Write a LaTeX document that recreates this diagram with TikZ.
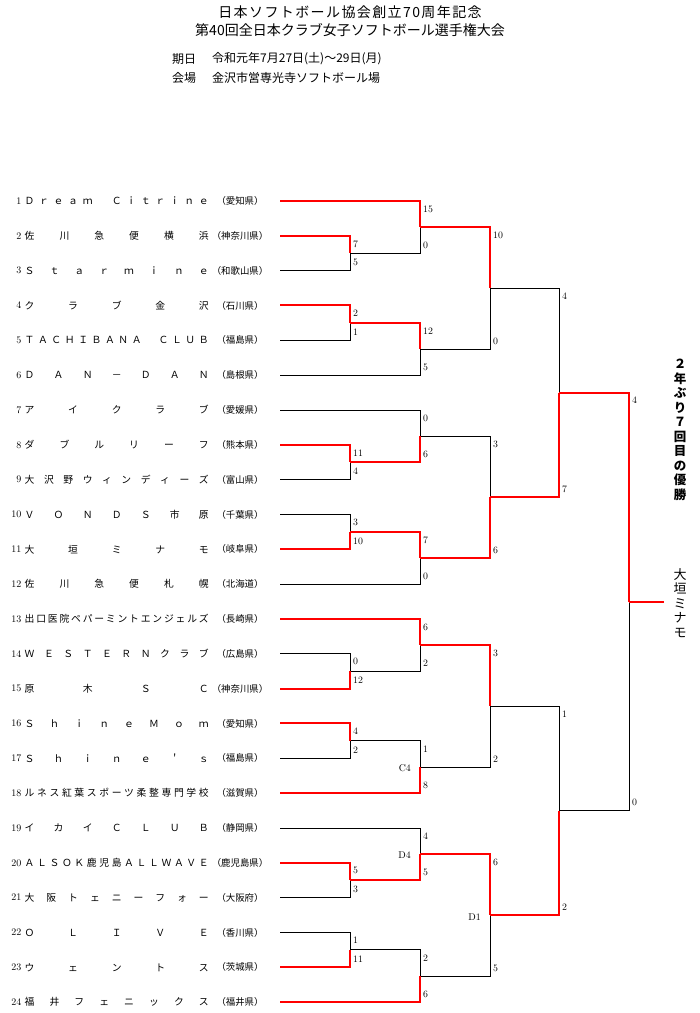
\documentclass[tikz,border=0pt]{standalone}
\usepackage{fontspec}
\newfontfamily\jp{Noto Sans CJK JP}
\usetikzlibrary{calc}

\makeatletter
% spread the letters of a team name over the name column
\newcommand\spreadname[1]{\hbox to 184pt{\let\sn@gap\relax\expandafter\sn@loop#1\sn@end}}
\def\sn@loop#1{\ifx#1\sn@end\else\sn@gap#1\let\sn@gap\hfil\expandafter\sn@loop\fi}
\makeatother

\begin{document}
\begin{tikzpicture}[x=1pt, y=-1pt,
  declare function={row(\idx)=201+(\idx-1)*34.83;},
  win/.style={draw=red, line width=2pt},
  lose/.style={draw=black, line width=0.9pt},
  title/.style={font=\jp\fontsize{14}{14}\selectfont, inner sep=0pt},
  info/.style={font=\jp\fontsize{12}{12}\selectfont, inner sep=0pt, anchor=west},
  num/.style={font=\fontsize{10}{10}\selectfont, inner sep=0pt, anchor=east},
  teamname/.style={font=\jp\fontsize{9.8}{10}\selectfont, inner sep=0pt, anchor=west},
  pref/.style={font=\jp\fontsize{9.4}{10}\selectfont, inner sep=0pt},
  score/.style={font=\fontsize{9.8}{10}\selectfont, inner sep=0pt},
  vert/.style={font=\jp\fontsize{13}{14.5}\selectfont, align=center, inner sep=0pt}
]
\path[fill=white, use as bounding box] (0,0) rectangle (700,1013);

% heading
\node[title] (head1) at (350,12) {\addfontfeatures{LetterSpace=10}日本ソフトボール協会創立70周年記念};
\node[title] (head2) at (350,30) {第40回全日本クラブ女子ソフトボール選手権大会};
\node[info] (datelab) at (172,59) {期日};
\node[info] (date) at (212,59) {令和元年7月27日(土)～29日(月)};
\node[info] (venuelab) at (172,78) {会場};
\node[info] (venue) at (212,78) {金沢市営専光寺ソフトボール場};

% teams
\foreach \i/\nm/\pf in {1/Ｄｒｅａｍ　Ｃｉｔｒｉｎｅ/愛知県, 2/佐川急便横浜/神奈川県,
    3/Ｓｔａｒｍｉｎｅ/和歌山県, 4/クラブ金沢/石川県, 5/ＴＡＣＨＩＢＡＮＡ　ＣＬＵＢ/福島県,
    6/ＤＡＮ－ＤＡＮ/島根県, 7/アイクラブ/愛媛県, 8/ダブルリーフ/熊本県,
    9/大沢野ウィンディーズ/富山県, 10/ＶＯＮＤＳ市原/千葉県, 11/大垣ミナモ/岐阜県,
    12/佐川急便札幌/北海道, 13/出口医院ペパーミントエンジェルズ/長崎県,
    14/ＷＥＳＴＥＲＮクラブ/広島県, 15/原木ＳＣ/神奈川県, 16/ＳｈｉｎｅＭｏｍ/愛知県,
    17/Ｓｈｉｎｅ＇ｓ/福島県, 18/ルネス紅葉スポーツ柔整専門学校/滋賀県,
    19/イカイＣＬＵＢ/静岡県, 20/ＡＬＳＯＫ鹿児島ＡＬＬＷＡＶＥ/鹿児島県,
    21/大阪トェニーフォー/大阪府, 22/ＯＬＩＶＥ/香川県, 23/ウェントス/茨城県,
    24/福井フェニックス/福井県} {
  \node[num] (n\i) at (21.5,{row(\i)}) {\i};
  \node[teamname] (t\i) at (24.5,{row(\i)}) {\spreadname{\nm}};
  \node[pref] (p\i) at (240,{row(\i)}) {（\pf）};
  \coordinate (s\i) at (280,{row(\i)});
}

% junctions
\foreach \blk/\o in {A/0,B/6,C/12,D/18} {
  \coordinate (\blk p) at (350,{row(\o+2.5)});
  \coordinate (\blk q) at (350,{row(\o+4.5)});
  \coordinate (\blk hi) at (420,{row(\o+1.75)});
  \coordinate (\blk lo) at (420,{row(\o+5.25)});
  \coordinate (\blk) at (490,{row(\o+3.5)});
}
\coordinate (AB) at (559,{row(6.5)});
\coordinate (CD) at (559,{row(18.5)});
\coordinate (F) at (629,{row(12.5)});
\coordinate (W) at (664,{row(12.5)});

% losing paths first, winning paths on top
\foreach \u/\v in {s3/Ap, Ap/Ahi, s5/Aq, s6/Alo, Alo/A,
    s7/Bhi, s9/Bp, s10/Bq, s12/Blo, Bhi/B,
    s14/Cp, Cp/Chi, s17/Cq, Cq/Clo, Clo/C,
    s19/Dhi, s21/Dp, s22/Dq, Dq/Dlo, Dlo/D,
    A/AB, C/CD, CD/F}
  \draw[lose] (\u) -| (\v);
\foreach \u/\v in {s1/Ahi, s2/Ap, s4/Aq, Aq/Alo, Ahi/A,
    s8/Bp, Bp/Bhi, s11/Bq, Bq/Blo, Blo/B,
    s13/Chi, s15/Cp, s16/Cq, s18/Clo, Chi/C,
    s20/Dp, Dp/Dhi, s23/Dq, s24/Dlo, Dhi/D,
    B/AB, D/CD, AB/F}
  \draw[win] (\u) -| (\v);
\draw[win] (F) -- (W);

% scores
\foreach \jn/\u/\l/\p/\q in {Ap/s2/s3/7/5, Aq/s4/s5/2/1, Ahi/s1/Ap/15/0,
    Alo/Aq/s6/12/5, A/Ahi/Alo/10/0,
    Bp/s8/s9/11/4, Bq/s10/s11/3/10, Bhi/s7/Bp/0/6, Blo/Bq/s12/7/0, B/Bhi/Blo/3/6,
    Cp/s14/s15/0/12, Cq/s16/s17/4/2, Chi/s13/Cp/6/2, Clo/Cq/s18/1/8, C/Chi/Clo/3/2,
    Dp/s20/s21/5/3, Dq/s22/s23/1/11, Dhi/s19/Dp/4/5, Dlo/Dq/s24/2/6, D/Dhi/Dlo/6/5,
    AB/A/B/4/7, CD/C/D/1/2, F/AB/CD/4/0} {
  \node[score, anchor=west, xshift=3pt, yshift=-8pt] (\jn top) at (\u -| \jn) {\p};
  \node[score, anchor=west, xshift=3pt, yshift=8pt] (\jn bot) at (\l -| \jn) {\q};
}

% match codes
\node[score, anchor=east, xshift=-9pt, yshift=-1pt] (codeC4) at (Clo) {C4};
\node[score, anchor=east, xshift=-9pt, yshift=-1pt] (codeD4) at (Dhi) {D4};
\node[score, anchor=east, xshift=-9pt, yshift=-2pt] (codeD1) at (D) {D1};

% result
\node[vert, font=\jp\bfseries\fontsize{12.5}{14.5}\selectfont] (note) at (680,430)
  {２\\年\\ぶ\\り\\７\\回\\目\\の\\優\\勝};
\node[vert] (champ) at (680,603) {大\\垣\\ミ\\ナ\\モ};
\end{tikzpicture}
\end{document}
